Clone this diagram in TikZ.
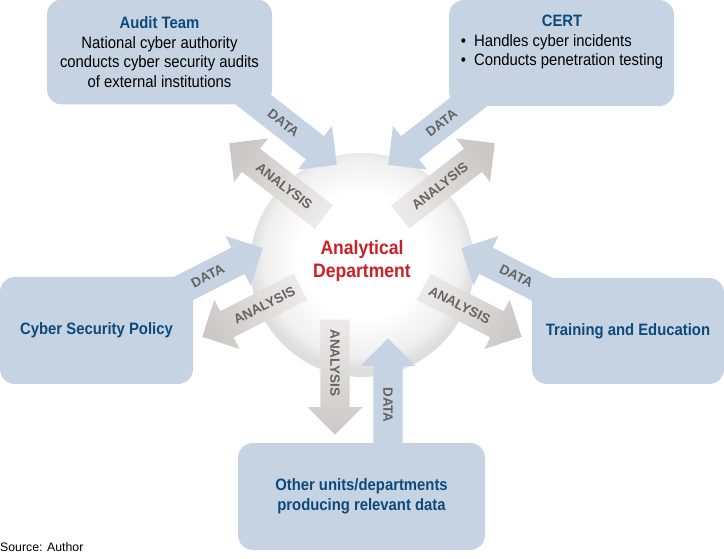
\documentclass[tikz,border=0pt]{standalone}
\usepackage{fontspec}
\setmainfont{Liberation Sans}[FakeStretch=0.9]
\newfontfamily\plainfont{Liberation Sans}
\usetikzlibrary{shapes.arrows}
\usetikzlibrary{calc}

\definecolor{unitblue}{HTML}{C6D3E2}
\definecolor{titleblue}{HTML}{0D4A7C}
\definecolor{deptred}{HTML}{CB2027}
\definecolor{flowgrey}{HTML}{646464}
\definecolor{analysisgrey}{HTML}{CDC8C8}

\pgfdeclareradialshading{sphere}{\pgfpoint{0bp}{3bp}}{color(0bp)=(white); color(14bp)=(white); color(22bp)=(black!6); color(25bp)=(black!13); color(50bp)=(black!13)}

\begin{document}
\begin{tikzpicture}[x=1pt, y=1pt,
    unit/.style={fill=unitblue, rounded corners=15pt, inner sep=0pt, align=center, font=\fontsize{16.5}{19.5}\selectfont},
    unittitle/.style={text=titleblue, font=\bfseries\fontsize{16.5}{19.5}\selectfont},
    flow/.style={single arrow, anchor=tip, inner sep=0pt, minimum width=0pt, text height=14.5pt, text depth=14.5pt, single arrow head extend=13pt, single arrow tip angle=90},
    dataflow/.style={flow, fill=unitblue},
    analysisflow/.style={flow, top color=analysisgrey, bottom color=analysisgrey!40, shading angle=#1},
    flowlabel/.style={text=flowgrey, font=\plainfont\bfseries\fontsize{13.5}{13.5}\selectfont}]
    \useasboundingbox (0,0) rectangle (724,558);

    \node[circle, minimum size=224pt, inner sep=0pt, shade, shading=sphere] (dept) at (362,293) {};

    \node[analysisflow=52, minimum height=120pt, rotate=142] (auditanalysis) at (229,415) {};
    \node[analysisflow=-52, minimum height=120pt, rotate=38] (certanalysis) at (495,415) {};
    \node[analysisflow=117, minimum height=110pt, rotate=207] (policyanalysis) at (202,221) {};
    \node[analysisflow=-117, minimum height=110pt, rotate=-27] (traininganalysis) at (522,221) {};
    \node[analysisflow=-180, minimum height=115pt, rotate=-90] (otheranalysis) at (335,123) {};

    \node[dataflow, minimum height=125pt, rotate=-38] (auditdata) at (337,393) {};
    \node[dataflow, minimum height=125pt, rotate=218] (certdata) at (388,393) {};
    \node[dataflow, minimum height=110pt, rotate=27] (policydata) at (263,310) {};
    \node[dataflow, minimum height=110pt, rotate=153] (trainingdata) at (461,310) {};
    \node[dataflow, minimum height=120pt, rotate=90] (otherdata) at (388,220) {};

    \node[unit, minimum width=225pt, minimum height=105pt] (audit) at (159.5,506) {{\bfseries\color{titleblue}Audit Team}\\National cyber authority\\conducts cyber security audits\\of external institutions};
    \node[unit, minimum width=225pt, minimum height=106pt] (cert) at (561.5,505) {};
    \node[align=center, inner sep=0pt, font=\fontsize{16.5}{19.5}\selectfont] (certtext) at (562,514.5) {{\bfseries\color{titleblue}CERT}\\\begin{tabular}[t]{@{}l@{}}\textbullet\hspace{8pt}Handles cyber incidents\\\textbullet\hspace{8pt}Conducts penetration testing\end{tabular}};
    \node[unit, unittitle, minimum width=193pt, minimum height=107pt] (policy) at (96.5,227.5) {Cyber Security Policy};
    \node[unit, unittitle, minimum width=192pt, minimum height=106pt] (training) at (628,227) {Training and Education};
    \node[unit, unittitle, minimum width=247pt, minimum height=107pt] (other) at (361.5,61.5) {Other units/departments\\producing relevant data};

    \node[text=deptred, align=center, font=\bfseries\fontsize{19.5}{23}\selectfont] (deptname) at (362,297) {Analytical\\Department};

    \node[flowlabel, rotate=-38] (auditdatalabel) at ($(auditdata.tip)!68pt!(auditdata.tail)$) {DATA};
    \node[flowlabel, rotate=-38] (auditanalysislabel) at ($(auditanalysis.tip)!70pt!(auditanalysis.tail)$) {ANALYSIS};
    \node[flowlabel, rotate=38] (certdatalabel) at ($(certdata.tip)!68pt!(certdata.tail)$) {DATA};
    \node[flowlabel, rotate=38] (certanalysislabel) at ($(certanalysis.tip)!70pt!(certanalysis.tail)$) {ANALYSIS};
    \node[flowlabel, rotate=27] (policydatalabel) at ($(policydata.tip)!62pt!(policydata.tail)$) {DATA};
    \node[flowlabel, rotate=27] (policyanalysislabel) at ($(policyanalysis.tip)!70pt!(policyanalysis.tail)$) {ANALYSIS};
    \node[flowlabel, rotate=-27] (trainingdatalabel) at ($(trainingdata.tip)!62pt!(trainingdata.tail)$) {DATA};
    \node[flowlabel, rotate=-27] (traininganalysislabel) at ($(traininganalysis.tip)!70pt!(traininganalysis.tail)$) {ANALYSIS};
    \node[flowlabel, rotate=-90] (otheranalysislabel) at ($(otheranalysis.tip)!72pt!(otheranalysis.tail)$) {ANALYSIS};
    \node[flowlabel, rotate=-90] (otherdatalabel) at ($(otherdata.tip)!67pt!(otherdata.tail)$) {DATA};

    \node[anchor=base west, inner sep=0pt, font=\plainfont\fontsize{12.3}{14}\selectfont] (source) at (0,7) {Source: Author};
\end{tikzpicture}
\end{document}
